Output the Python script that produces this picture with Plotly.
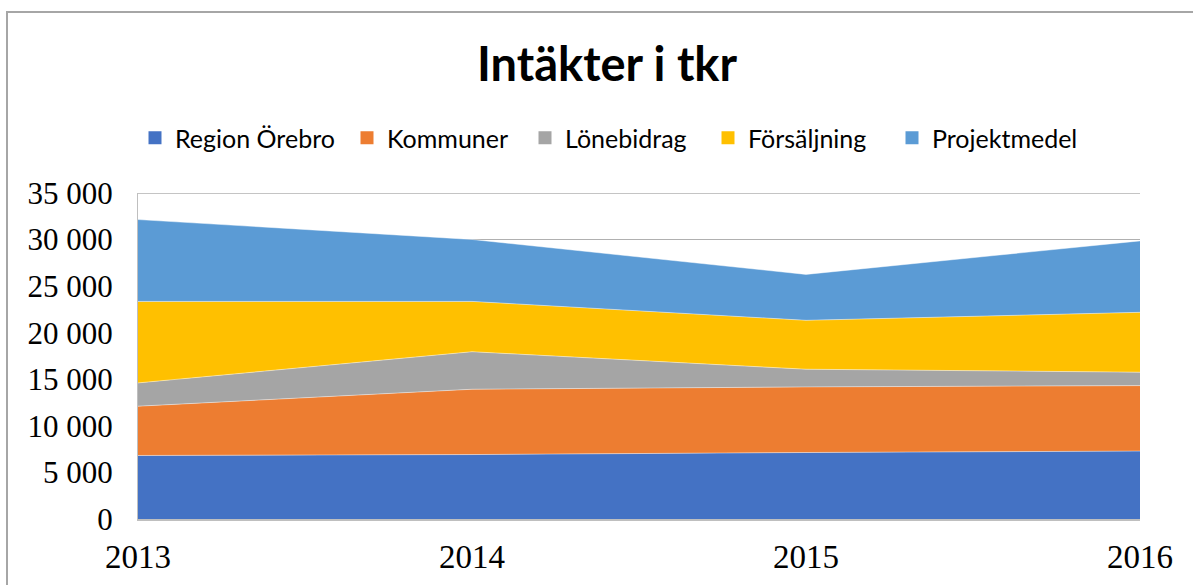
import plotly.graph_objects as go

years = [2013, 2014, 2015, 2016]
series_names = ["Region Örebro", "Kommuner", "Lönebidrag", "Försäljning", "Projektmedel"]
region_orebro = [6820, 6920, 7140, 7290]
kommuner = [5290, 7010, 7040, 7030]
lonebidrag = [2500, 4030, 1900, 1440]
forsaljning = [8750, 5400, 5250, 6430]
projektmedel = [8790, 6650, 4930, 7670]
y_ticks = [0, 5000, 10000, 15000, 20000, 25000, 30000, 35000]
y_tick_labels = ["0", "5 000", "10 000", "15 000", "20 000", "25 000", "30 000", "35 000"]

colors = ["#4472C4", "#ED7D31", "#A5A5A5", "#FFC000", "#5B9BD5"]
values = [region_orebro, kommuner, lonebidrag, forsaljning, projektmedel]
legend_square_px = [155, 367, 545, 728, 912]

W, H = 1193, 585
L, R, T, B = 138, 1140, 193, 519

def px_x(px):
    return (px - L) / (R - L)

def px_y(py):
    return (B - py) / (B - T)

fig = go.Figure()
for name, vals, col in zip(series_names, values, colors):
    fig.add_trace(go.Scatter(
        x=years, y=vals, name=name, stackgroup="one", mode="lines",
        line=dict(width=0.8, color="rgba(255,255,255,0.55)"),
        fillcolor=col, showlegend=False,
    ))

legend_layouts = {}
for i, (name, col, sx) in enumerate(zip(series_names, colors, legend_square_px)):
    key = "legend" if i == 0 else f"legend{i + 1}"
    fig.add_trace(go.Scatter(
        x=[None], y=[None], name=name, mode="markers",
        marker=dict(symbol="square", size=13, color=col), legend=key,
    ))
    legend_layouts[key] = dict(
        orientation="h", x=px_x(sx - 20), xanchor="left", y=px_y(138), yanchor="middle",
        font=dict(family="Lato", size=25, color="black"), itemwidth=30,
        bgcolor="rgba(0,0,0,0)", borderwidth=0,
    )

border = "#a6a6a6"
fig.update_layout(
    width=W, height=H,
    margin=dict(l=L, r=W - R, t=T, b=H - B, autoexpand=False),
    paper_bgcolor="white", plot_bgcolor="white",
    title=dict(text="<b>Intäkter i tkr</b>", x=px_x(607), xref="paper", xanchor="center",
               y=1 - 65 / H, yref="container", yanchor="middle",
               font=dict(family="Lato", size=47, color="black")),
    showlegend=True,
    xaxis=dict(range=[2013, 2016], tickvals=years, ticktext=[str(y) for y in years],
               showgrid=False, zeroline=False, showline=True, linecolor="#bfbfbf", linewidth=1.5,
               tickfont=dict(family="Liberation Serif", size=33, color="black"),
               ticks="", ticklabelstandoff=8, automargin=False),
    yaxis=dict(range=[0, 35000], tickvals=y_ticks, ticktext=y_tick_labels,
               showgrid=True, gridcolor="#b0b0b0", gridwidth=1.3, zeroline=False,
               showline=True, linecolor="#bfbfbf", linewidth=1.3,
               tickfont=dict(family="Liberation Serif", size=31, color="black"),
               ticks="", ticklabelstandoff=18, automargin=False),
    shapes=[
        dict(type="line", xref="paper", yref="y", x0=0, x1=1, y0=y_ticks[-1], y1=y_ticks[-1],
             line=dict(color="#b0b0b0", width=1.3), layer="below"),
        dict(type="line", xref="paper", yref="paper", x0=px_x(7), x1=px_x(7), y0=px_y(12), y1=px_y(600),
             line=dict(color=border, width=2)),
        dict(type="line", xref="paper", yref="paper", x0=px_x(6), x1=px_x(1200), y0=px_y(12), y1=px_y(12),
             line=dict(color=border, width=2)),
    ],
    **legend_layouts,
)

fig.write_html("out.html")
